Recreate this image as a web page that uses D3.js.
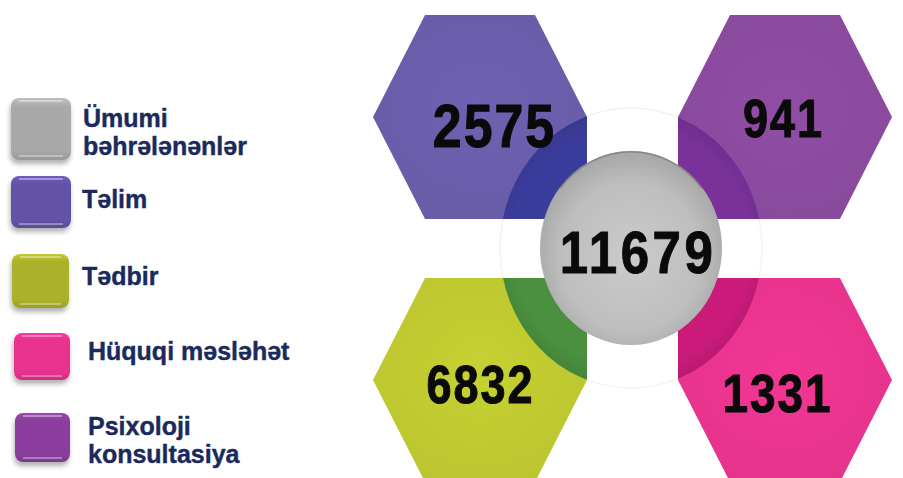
<!DOCTYPE html>
<html>
<head>
<meta charset="utf-8">
<script src="https://cdn.jsdelivr.net/npm/d3@7"></script>
<style>
  body { margin: 0; background: #fff; }
  svg { display: block; font-family: "Liberation Sans", Arial, sans-serif; }
</style>
</head>
<body>
<svg id="chart" width="903" height="478"></svg>
<script>
let categories = ['Təlim', 'Psixoloji konsultasiya', 'Tədbir', 'Hüquqi məsləhət'];
let values = [2575, 941, 6832, 1331];
let totalLabel = 'Ümumi bəhrələnənlər';
let total = 11679;
let cols = ['left', 'right', 'left', 'right'];
let rows = ['top', 'top', 'bottom', 'bottom'];
let hexColors = ['#6a5daa', '#8a4a9e', '#bec830', '#e8348e'];
let ringColors = ['#393b97', '#763095', '#478b3c', '#c31a77'];

let legendNames = ['Ümumi|bəhrələnənlər', 'Təlim', 'Tədbir', 'Hüquqi məsləhət', 'Psixoloji|konsultasiya'];
let legendColors = ['#a9a9a9', '#6452a8', '#aab12a', '#e9308e', '#8a3e9d'];

let width = 903, height = 478;
let svg = d3.select('#chart');
let defs = svg.append('defs');

let x = d3.scalePoint().domain(['left', 'right']).range([480, 785]);
let y = d3.scalePoint().domain(['top', 'bottom']).range([117, 380]);
let cx = 631, cy = 248;

// hexagon with the corner that faces the centre squared off
function hexPoints(col, row) {
  let sx = col == 'left' ? 1 : -1;
  let sy = row == 'top' ? 1 : -1;
  let pts = [[-55, -102], [55, -102], [107, 0], [107, 102], [-55, 102], [-107, 0]];
  return pts.map(p => [x(col) + p[0] * sx, y(row) + p[1] * sy]);
}
let line = d3.line().curve(d3.curveLinearClosed);

// gradients
hexColors.forEach((c, i) => {
  let g = defs.append('radialGradient').attr('id', 'hg' + i)
    .attr('cx', '50%').attr('cy', '45%').attr('r', '65%');
  g.append('stop').attr('offset', '0%').attr('stop-color', d3.color(c).brighter(0.12));
  g.append('stop').attr('offset', '100%').attr('stop-color', d3.color(c).darker(0.05));
  let r = defs.append('radialGradient').attr('id', 'rg' + i)
    .attr('gradientUnits', 'userSpaceOnUse')
    .attr('cx', cx).attr('cy', cy).attr('r', 140);
  r.append('stop').attr('offset', '65%').attr('stop-color', d3.color(ringColors[i]).brighter(0.1));
  r.append('stop').attr('offset', '85%').attr('stop-color', d3.color(ringColors[i]).brighter(0.1));
  r.append('stop').attr('offset', '100%').attr('stop-color', d3.color(ringColors[i]).darker(0.15));
  defs.append('clipPath').attr('id', 'clip' + i)
    .append('path').attr('d', line(hexPoints(cols[i], rows[i])));
});

let cg = defs.append('radialGradient').attr('id', 'centerGrad')
  .attr('cx', '50%').attr('cy', '55%').attr('r', '55%');
cg.append('stop').attr('offset', '0%').attr('stop-color', '#cbcbcb');
cg.append('stop').attr('offset', '70%').attr('stop-color', '#bebebe');
cg.append('stop').attr('offset', '100%').attr('stop-color', '#a6a6a6');

let shadow = defs.append('filter').attr('id', 'shadow')
  .attr('x', '-30%').attr('y', '-30%').attr('width', '160%').attr('height', '170%');
shadow.append('feDropShadow').attr('dx', -1).attr('dy', 4).attr('stdDeviation', 2.5)
  .attr('flood-color', '#000').attr('flood-opacity', 0.3);

legendColors.forEach((c, i) => {
  let g = defs.append('linearGradient').attr('id', 'lg' + i)
    .attr('x1', 0).attr('y1', 0).attr('x2', 0).attr('y2', 1);
  g.append('stop').attr('offset', '0%').attr('stop-color', d3.color(c).brighter(0.35));
  g.append('stop').attr('offset', '15%').attr('stop-color', c);
  g.append('stop').attr('offset', '85%').attr('stop-color', c);
  g.append('stop').attr('offset', '100%').attr('stop-color', d3.color(c).darker(0.3));
});

// faint outer ring
svg.append('ellipse').attr('cx', cx).attr('cy', cy).attr('rx', 131).attr('ry', 140)
  .attr('fill', 'none').attr('stroke', '#f3f3f3').attr('stroke-width', 1.5);

let hex = svg.selectAll('g.hex').data(values).enter().append('g').attr('class', 'hex');
hex.append('path')
  .attr('d', (d, i) => line(hexPoints(cols[i], rows[i])))
  .attr('fill', (d, i) => 'url(#hg' + i + ')');
hex.append('ellipse')
  .attr('clip-path', (d, i) => 'url(#clip' + i + ')')
  .attr('cx', cx).attr('cy', cy).attr('rx', 131).attr('ry', 140)
  .attr('fill', (d, i) => 'url(#rg' + i + ')');

// centre disc
svg.append('ellipse').attr('cx', cx).attr('cy', cy).attr('rx', 91).attr('ry', 97)
  .attr('fill', 'url(#centerGrad)');
svg.append('path')
  .attr('d', d3.arc()({innerRadius: 95.5, outerRadius: 97, startAngle: -0.9, endAngle: 0.9}))
  .attr('transform', `translate(${cx},${cy}) scale(0.94,1)`)
  .attr('fill', '#7d7d7d').attr('opacity', 0.8);

// numbers: narrow, tall digits with a little spacing
let sx = 0.85, ls = 2;
let numOffsets = [[13.5, 30], [-2.5, 20], [-0.5, 23], [-8.5, 32]];
let numSizes = [61, 53, 53, 54];
function numTransform(px, py) {
  return `translate(${px + ls / 2},${py}) scale(${sx},1)`;
}
hex.append('text')
  .attr('transform', (d, i) => numTransform(x(cols[i]) + numOffsets[i][0], y(rows[i]) + numOffsets[i][1]))
  .attr('text-anchor', 'middle')
  .attr('font-size', (d, i) => numSizes[i])
  .attr('letter-spacing', ls / sx)
  .attr('font-weight', 'bold')
  .attr('fill', '#0a0a0a').attr('stroke', '#0a0a0a').attr('stroke-width', 1)
  .text(d => d);

svg.append('text')
  .attr('transform', numTransform(cx + 6, cy + 25))
  .attr('text-anchor', 'middle').attr('font-size', 60).attr('font-weight', 'bold')
  .attr('letter-spacing', (ls + 1.5) / sx)
  .attr('fill', '#0a0a0a').attr('stroke', '#0a0a0a').attr('stroke-width', 1)
  .text(total);

// legend
let boxes = [
  {x: 11, y: 98, w: 60, h: 62},
  {x: 11, y: 176, w: 60, h: 52},
  {x: 12, y: 254, w: 57, h: 54},
  {x: 14, y: 333, w: 56, h: 47},
  {x: 15, y: 413, w: 55, h: 49}
];
let labelPos = [[83, 127], [82, 208], [82, 285], [88, 360], [88, 435]];

let leg = svg.selectAll('g.leg').data(legendNames).enter().append('g').attr('class', 'leg');
leg.append('rect')
  .attr('x', (d, i) => boxes[i].x).attr('y', (d, i) => boxes[i].y)
  .attr('width', (d, i) => boxes[i].w).attr('height', (d, i) => boxes[i].h)
  .attr('rx', 8).attr('fill', (d, i) => 'url(#lg' + i + ')')
  .attr('filter', 'url(#shadow)');
leg.append('line')
  .attr('x1', (d, i) => boxes[i].x + 8).attr('x2', (d, i) => boxes[i].x + boxes[i].w - 8)
  .attr('y1', (d, i) => boxes[i].y + 3).attr('y2', (d, i) => boxes[i].y + 3)
  .attr('stroke', '#fff').attr('stroke-opacity', 0.5).attr('stroke-width', 1.5);
leg.append('line')
  .attr('x1', (d, i) => boxes[i].x + 8).attr('x2', (d, i) => boxes[i].x + boxes[i].w - 8)
  .attr('y1', (d, i) => boxes[i].y + boxes[i].h - 4).attr('y2', (d, i) => boxes[i].y + boxes[i].h - 4)
  .attr('stroke', '#fff').attr('stroke-opacity', 0.45).attr('stroke-width', 1.5);

leg.append('text')
  .attr('font-size', 25).attr('font-weight', 'bold').attr('fill', '#1b2a5c')
  .attr('stroke', '#1b2a5c').attr('stroke-width', 0.4)
  .each(function (d, i) {
    let parts = d.split('|');
    d3.select(this).selectAll('tspan').data(parts).enter().append('tspan')
      .attr('x', labelPos[i][0])
      .attr('y', (p, j) => labelPos[i][1] + j * 28)
      .text(p => p);
  });
</script>
</body>
</html>
